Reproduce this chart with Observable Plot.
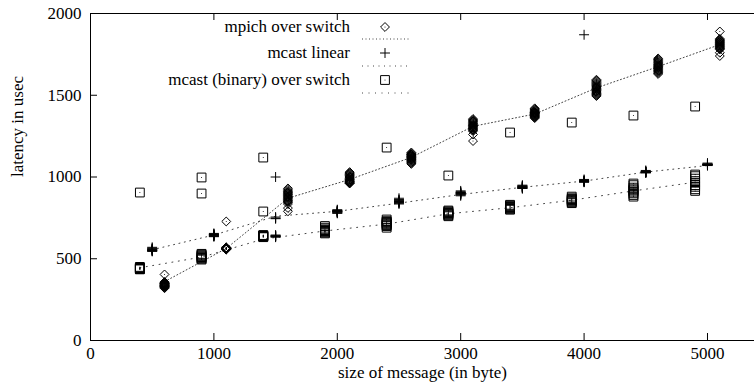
<!DOCTYPE html>
<html><head><meta charset="utf-8">
<script src="https://cdn.jsdelivr.net/npm/d3@7"></script>
<script src="https://cdn.jsdelivr.net/npm/@observablehq/plot@0.6"></script>
<style>
body{margin:0;background:#fff}
#wrap{position:relative;width:754px;height:385px;overflow:hidden}
#legend{position:absolute;left:0;top:0}
svg text{font-family:"Liberation Serif","Tinos","Noto Serif","DejaVu Serif","FreeSerif",serif !important}
</style>
</head><body><div id="wrap"></div>
<script>
// ---- data ----
const xTicks = [0, 1000, 2000, 3000, 4000, 5000];
const yTicks = [0, 500, 1000, 1500, 2000];
const xLabel = "size of message (in byte)";
const yLabel = "latency in usec";
const seriesNames = ["mpich over switch", "mcast linear", "mcast (binary) over switch"];

const mpichSizes = [600, 1100, 1600, 2100, 2600, 3100, 3600, 4100, 4600, 5100];
const mpichValues = [
  [404, 358, 354, 350, 347, 344, 341, 338, 335, 332, 329, 326, 323, 320, 345, 340, 336, 348, 352, 330],
  [728, 570, 568, 566, 564, 563, 562, 561, 560, 558, 556, 565, 567, 563, 561, 559, 562, 564, 566, 560],
  [930, 922, 915, 910, 905, 900, 895, 890, 885, 880, 875, 870, 865, 860, 855, 850, 845, 835, 810, 790],
  [1030, 1025, 1020, 1015, 1010, 1005, 1000, 995, 990, 985, 982, 978, 975, 972, 970, 968, 965, 962, 960, 1000],
  [1150, 1145, 1140, 1137, 1134, 1130, 1127, 1124, 1120, 1117, 1114, 1110, 1107, 1104, 1100, 1095, 1090, 1085, 1080, 1135],
  [1355, 1350, 1345, 1340, 1335, 1330, 1325, 1320, 1317, 1314, 1310, 1306, 1302, 1298, 1294, 1290, 1285, 1280, 1260, 1220],
  [1420, 1415, 1410, 1405, 1400, 1397, 1394, 1391, 1388, 1385, 1382, 1379, 1376, 1373, 1370, 1367, 1364, 1360, 1395, 1390],
  [1595, 1590, 1585, 1578, 1572, 1566, 1560, 1555, 1550, 1545, 1540, 1535, 1530, 1525, 1520, 1515, 1510, 1505, 1500, 1495],
  [1725, 1720, 1714, 1708, 1702, 1697, 1692, 1687, 1682, 1678, 1674, 1670, 1666, 1661, 1656, 1651, 1646, 1641, 1636, 1630],
  [1890, 1845, 1840, 1836, 1832, 1828, 1824, 1820, 1816, 1812, 1808, 1804, 1800, 1796, 1792, 1788, 1785, 1780, 1760, 1740]
];
const mpichLine = [360, 563, 870, 985, 1120, 1310, 1385, 1545, 1675, 1810];

const linearSizes = [500, 1000, 1500, 2000, 2500, 3000, 3500, 4000, 4500, 5000];
const linearValues = [
  [570, 565, 560, 555, 550, 545, 560, 555, 550, 548],
  [655, 650, 645, 640, 638, 645, 650, 640, 635, 648],
  [1000, 755, 748, 745, 640, 638, 635, 632, 640, 645],
  [800, 795, 790, 788, 785, 780, 778, 790, 795, 785],
  [870, 862, 855, 850, 845, 840, 835, 858, 848, 842],
  [915, 910, 905, 900, 895, 890, 885, 900, 905, 895],
  [950, 945, 940, 935, 930, 940, 945, 935, 930, 938],
  [1870, 985, 980, 975, 972, 970, 968, 975, 978, 972],
  [1040, 1035, 1032, 1030, 1028, 1025, 1030, 1033, 1027, 1030],
  [1085, 1080, 1078, 1075, 1072, 1070, 1075, 1078, 1073, 1076]
];
const linearLine = [555, 645, 760, 790, 840, 893, 937, 975, 1030, 1070];

const binarySizes = [400, 900, 1400, 1900, 2400, 2900, 3400, 3900, 4400, 4900];
const binaryValues = [
  [905, 450, 445, 440, 438, 435, 440, 445, 442, 438],
  [997, 899, 530, 520, 510, 505, 500, 495, 515, 525],
  [1119, 789, 645, 640, 636, 632, 638, 642, 635, 640],
  [700, 690, 680, 675, 670, 665, 660, 655, 672, 668],
  [1180, 740, 730, 720, 715, 710, 705, 700, 690, 725],
  [1009, 795, 790, 780, 775, 770, 765, 760, 785, 778],
  [1272, 830, 825, 818, 812, 808, 805, 800, 815, 820],
  [1333, 880, 870, 862, 858, 855, 850, 845, 840, 865],
  [1376, 960, 950, 935, 925, 918, 910, 900, 890, 880],
  [1431, 1015, 1005, 990, 975, 965, 950, 940, 925, 915]
];
const binaryLine = [445, 510, 620, 670, 712, 775, 812, 858, 915, 968];

// ---- derived tables ----
const flat = (sizes, vals) => sizes.flatMap((s, i) => vals[i].map(v => ({x: s, y: v})));
const mpichPts = flat(mpichSizes, mpichValues);
const linearPts = flat(linearSizes, linearValues);
const binaryPts = flat(binarySizes, binaryValues);
const toLine = (sizes, vals) => sizes.map((s, i) => ({x: s, y: vals[i]}));

const W = 754, H = 385, mL = 90, mR = 0, mT = 13, mB = 45;
const plotW = W - mL - mR, plotH = H - mT - mB;
const font = "'Liberation Serif', 'Tinos', 'Noto Serif', 'DejaVu Serif', serif";
const fs = 17;
const plusR = 3.3;

const chart = Plot.plot({
  width: W, height: H,
  marginLeft: mL, marginRight: mR, marginTop: mT, marginBottom: mB,
  style: {fontFamily: font, fontSize: fs + "px", background: "white", color: "black", overflow: "visible"},
  x: {domain: [0, 5381]},
  y: {domain: [0, 2000]},
  marks: [
    Plot.ruleY(yTicks.filter(d => d === 0 || d === 2000), {y: d => d, stroke: "black", strokeWidth: 1}),
    Plot.ruleX([0], {stroke: "black", strokeWidth: 1}),
    Plot.tickX(xTicks, {x: d => d, insetTop: plotH - 7, stroke: "black"}),
    Plot.tickX(xTicks, {x: d => d, insetBottom: plotH - 7, stroke: "black"}),
    Plot.tickY(yTicks, {y: d => d, insetRight: plotW - 7, stroke: "black"}),
    Plot.axisX({ticks: xTicks, tickSize: 0, tickPadding: 6, tickFormat: d => String(d), label: null, fontSize: fs, fontFamily: font}),
    Plot.axisY({ticks: yTicks, tickSize: 0, tickPadding: 9, tickFormat: d => String(d), label: null, fontSize: fs, fontFamily: font}),
    Plot.text([xLabel], {frameAnchor: "bottom", dy: 37, fontSize: fs, fontFamily: font}),
    Plot.text([yLabel], {frameAnchor: "left", dx: -73, rotate: -90, fontSize: fs, fontFamily: font}),
    Plot.line(toLine(mpichSizes, mpichLine), {x: "x", y: "y", stroke: "#444", strokeWidth: 1, strokeDasharray: "1,2.5"}),
    Plot.line(toLine(linearSizes, linearLine), {x: "x", y: "y", stroke: "#444", strokeWidth: 1, strokeDasharray: "1,4.5"}),
    Plot.line(toLine(binarySizes, binaryLine), {x: "x", y: "y", stroke: "#444", strokeWidth: 1, strokeDasharray: "1,5.5"}),
    Plot.dot(mpichPts, {x: "x", y: "y", symbol: "diamond2", r: 4, stroke: "black", strokeWidth: 1, fill: "none"}),
    Plot.dot(mpichPts, {x: "x", y: "y", r: 0.5, fill: "black", stroke: "none"}),
    Plot.dot(linearPts, {x: "x", y: "y", symbol: "plus", r: plusR, stroke: "black", strokeWidth: 1}),
    Plot.dot(binaryPts, {x: "x", y: "y", symbol: "square2", r: 5.6, stroke: "black", strokeWidth: 1, fill: "none"}),
    Plot.dot(binaryPts, {x: "x", y: "y", r: 0.5, fill: "black", stroke: "none"})
  ]
});
const wrap = document.getElementById("wrap");
wrap.appendChild(chart);

// ---- legend overlay ----
const leg = d3.select(wrap).append("svg").attr("id", "legend")
  .attr("width", W).attr("height", 110)
  .style("font-family", font).style("font-size", fs + "px");
const rowsY = [27, 53, 80];
const lineY = [39, 66, 93];
const dashes = ["1,2.5", "1,4.5", "1,5.5"];
const syms = [d3.symbolDiamond2, d3.symbolPlus, d3.symbolSquare2];
const symR = [4, plusR, 5.6];
seriesNames.forEach((name, i) => {
  leg.append("text").attr("x", 350).attr("y", rowsY[i]).attr("dy", "0.32em")
    .attr("text-anchor", "end").attr("fill", "black").text(name);
  leg.append("path").attr("transform", `translate(385,${rowsY[i]})`)
    .attr("d", d3.symbol(syms[i], symR[i] * symR[i] * Math.PI)())
    .attr("fill", "none").attr("stroke", "black").attr("stroke-width", 1);
  if (i !== 1) leg.append("circle").attr("cx", 385).attr("cy", rowsY[i]).attr("r", 0.5).attr("fill", "black");
  leg.append("line").attr("x1", 362).attr("x2", 410).attr("y1", lineY[i]).attr("y2", lineY[i])
    .attr("stroke", "#444").attr("stroke-dasharray", dashes[i]);
});
</script></body></html>
